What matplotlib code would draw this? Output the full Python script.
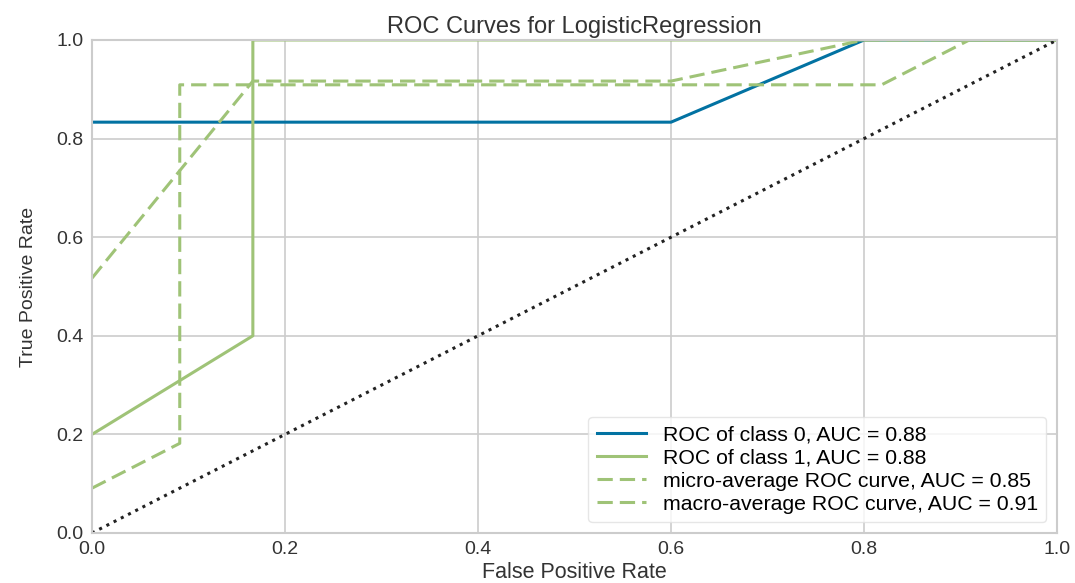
import numpy as np
import matplotlib
matplotlib.use('Agg')
import matplotlib.pyplot as plt

# ROC points per curve (fpr, tpr)
fpr_class0 = [0.0, 0.6, 0.8, 1.0]
tpr_class0 = [5/6, 5/6, 1.0, 1.0]
fpr_class1 = [0.0, 1/6, 1/6, 1.0]
tpr_class1 = [0.2, 0.4, 1.0, 1.0]
fpr_micro = [0.0, 1/11, 1/11, 9/11, 10/11, 1.0]
tpr_micro = [1/11, 2/11, 10/11, 10/11, 1.0, 1.0]
fpr_macro = [0.0, 1/6, 0.6, 0.8, 1.0]
tpr_macro = [0.517, 11/12, 11/12, 1.0, 1.0]
labels = ['ROC of class 0, AUC = 0.88', 'ROC of class 1, AUC = 0.88',
          'micro-average ROC curve, AUC = 0.85', 'macro-average ROC curve, AUC = 0.91']

blue = '#0272a2'
green = '#9fc377'
lw = 2.2
dash = (0, (5, 2.3))

plt.rcParams['font.family'] = ['Liberation Sans', 'DejaVu Sans']
fig = plt.figure(figsize=(10.75, 5.83), dpi=100)
ax = fig.add_axes([0.0856, 0.0858, 0.8977, 0.8456])
ax.set_facecolor('white')
for s in ax.spines.values():
    s.set_color('#cccccc')
    s.set_linewidth(1.5)
ax.grid(True, color='#cccccc', linewidth=1.2)
ax.set_axisbelow(True)

ax.plot(fpr_class0, tpr_class0, color=blue, linewidth=lw, label=labels[0])
ax.plot(fpr_class1, tpr_class1, color=green, linewidth=lw, label=labels[1])
ax.plot(fpr_micro, tpr_micro, color=green, linewidth=lw, linestyle=dash, label=labels[2])
ax.plot(fpr_macro, tpr_macro, color=green, linewidth=lw, linestyle=dash, label=labels[3])
ax.plot([0, 1], [0, 1], color='#222222', linestyle=':', linewidth=lw)

ax.set_xlim(0, 1)
ax.set_ylim(0, 1)
ax.set_xticks([0, 0.2, 0.4, 0.6, 0.8, 1.0])
ax.set_yticks([0, 0.2, 0.4, 0.6, 0.8, 1.0])
ax.tick_params(length=0, labelsize=14, labelcolor='#333333', pad=6)
ax.set_xlabel('False Positive Rate', fontsize=15.5, color='#333333', labelpad=3)
ax.set_ylabel('True Positive Rate', fontsize=14, color='#333333', labelpad=14)
ax.set_title('ROC Curves for LogisticRegression', fontsize=17, color='#333333', pad=5)

leg = ax.legend(loc='lower right', fontsize=15.3, frameon=True, handlelength=2.3,
                borderpad=0.4, labelspacing=0.2, fancybox=True)
leg.get_frame().set_edgecolor('#e0e0e0')
leg.get_frame().set_alpha(0.8)

fig.savefig('out.png', dpi=100)
